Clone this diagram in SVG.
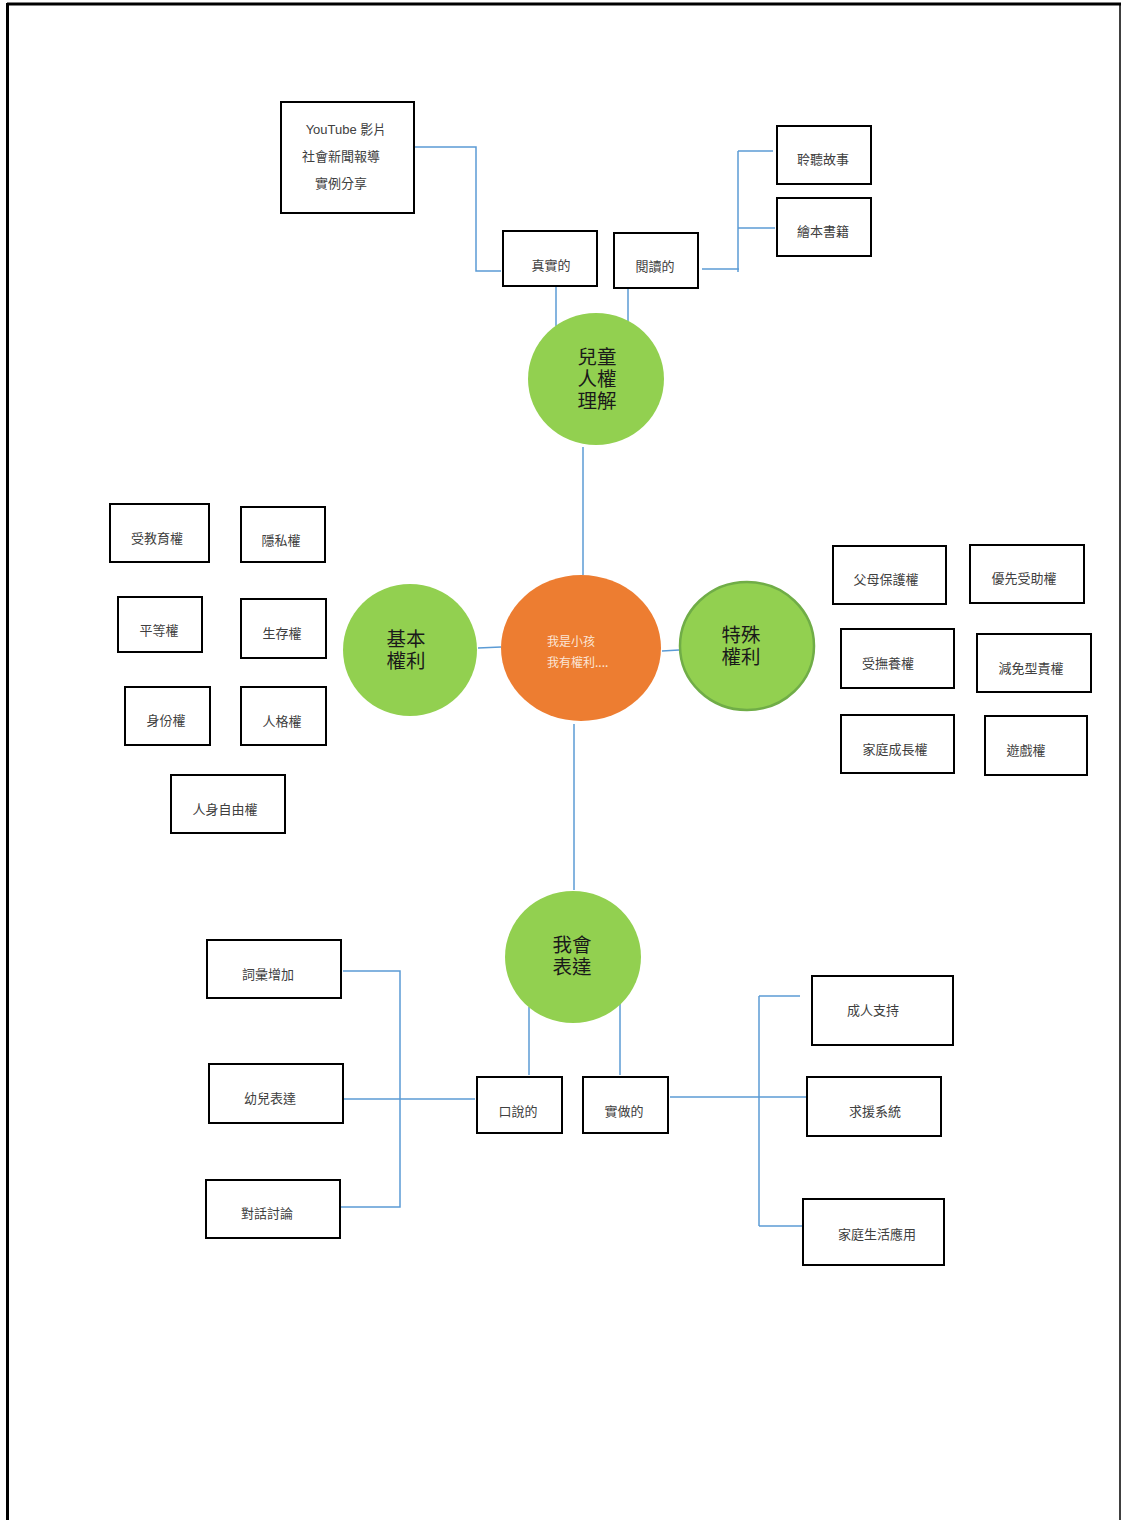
<svg xmlns="http://www.w3.org/2000/svg" width="1121" height="1520" viewBox="0 0 1121 1520">
<style>
.bx{fill:#fff;stroke:#000;stroke-width:2}
.t{font-family:"Liberation Sans","Noto Sans CJK TC",sans-serif;font-size:13px;fill:#404040;text-anchor:middle}
.c{fill:#92D050}
.ct{font-family:"Liberation Sans","Noto Sans CJK TC",sans-serif;font-size:19.5px;fill:#1a1a1a;text-anchor:middle}
.ln{fill:none;stroke:#5B9BD5;stroke-width:1.5}
</style>
<rect width="1121" height="1520" fill="#fff"/>
<g id="page-border">
<line x1="7" y1="4" x2="1121" y2="4" stroke="#000" stroke-width="3"/>
<line x1="7.5" y1="3" x2="7.5" y2="1520" stroke="#000" stroke-width="3"/>
<line x1="1120" y1="4" x2="1120" y2="1520" stroke="#000" stroke-width="1.5"/>
</g>
<g id="connectors">
<polyline class="ln" points="414,147 476,147 476,271 501,271"/>
<line class="ln" x1="556" y1="287" x2="556" y2="326"/>
<line class="ln" x1="628" y1="289" x2="628" y2="321"/>
<polyline class="ln" points="702,269 739,269"/>
<line class="ln" x1="738" y1="151" x2="738" y2="272"/>
<line class="ln" x1="738" y1="151" x2="773" y2="151"/>
<line class="ln" x1="738" y1="228" x2="775" y2="228"/>
<line class="ln" x1="583" y1="447" x2="583" y2="575"/>
<line class="ln" x1="478" y1="648" x2="501" y2="647"/>
<line class="ln" x1="662" y1="651" x2="679" y2="650"/>
<line class="ln" x1="574" y1="724" x2="574" y2="890"/>
<line class="ln" x1="529" y1="1007" x2="529" y2="1075"/>
<line class="ln" x1="620" y1="998" x2="620" y2="1075"/>
<polyline class="ln" points="343,971 400,971 400,1207 341,1207"/>
<line class="ln" x1="344" y1="1099" x2="475" y2="1099"/>
<line class="ln" x1="670" y1="1097" x2="807" y2="1097"/>
<line class="ln" x1="759" y1="996" x2="759" y2="1226"/>
<line class="ln" x1="759" y1="996" x2="800" y2="996"/>
<line class="ln" x1="759" y1="1226" x2="803" y2="1226"/>
</g>
<g id="n-youtube"><rect class="bx" x="281" y="102" width="133" height="111"/>
<text class="t" x="346" y="134">YouTube  影片</text>
<text class="t" x="341" y="161">社會新聞報導</text>
<text class="t" x="341" y="188">實例分享</text></g>
<g id="n-real"><rect class="bx" x="503" y="231" width="94" height="55"/><text class="t" x="551" y="270">真實的</text></g>
<g id="n-read"><rect class="bx" x="614" y="233" width="84" height="55"/><text class="t" x="655" y="271">閱讀的</text></g>
<g id="n-listen"><rect class="bx" x="777" y="126" width="94" height="58"/><text class="t" x="823" y="164">聆聽故事</text></g>
<g id="n-book"><rect class="bx" x="777" y="198" width="94" height="58"/><text class="t" x="823" y="236">繪本書籍</text></g>

<g id="n-understand"><ellipse class="c" cx="596" cy="379" rx="68" ry="66"/>
<text class="ct" x="597" y="364">兒童</text><text class="ct" x="597" y="386">人權</text><text class="ct" x="597" y="408">理解</text></g>
<g id="n-center"><ellipse cx="581" cy="648" rx="80" ry="73" fill="#ED7D31"/>
<text x="547" y="646" font-family="Noto Sans CJK TC,sans-serif" font-size="12" fill="#FBE5D6">我是小孩</text>
<text x="547" y="667" font-family="Noto Sans CJK TC,sans-serif" font-size="12" fill="#FBE5D6">我有權利....</text></g>
<g id="n-basic"><ellipse class="c" cx="410" cy="650" rx="67" ry="66"/>
<text class="ct" x="406" y="646">基本</text><text class="ct" x="406" y="668">權利</text></g>
<g id="n-special"><ellipse class="c" cx="747" cy="646" rx="67" ry="64" stroke="#70AD47" stroke-width="2.5"/>
<text class="ct" x="741" y="642">特殊</text><text class="ct" x="741" y="664">權利</text></g>
<g id="n-express"><ellipse class="c" cx="573" cy="957" rx="68" ry="66"/>
<text class="ct" x="572" y="952">我會</text><text class="ct" x="572" y="974">表達</text></g>

<g id="n-edu"><rect class="bx" x="110" y="504" width="99" height="58"/><text class="t" x="157" y="543">受教育權</text></g>
<g id="n-privacy"><rect class="bx" x="241" y="507" width="84" height="55"/><text class="t" x="281" y="545">隱私權</text></g>
<g id="n-equal"><rect class="bx" x="118" y="597" width="84" height="55"/><text class="t" x="159" y="635">平等權</text></g>
<g id="n-survive"><rect class="bx" x="241" y="599" width="85" height="59"/><text class="t" x="282" y="638">生存權</text></g>
<g id="n-identity"><rect class="bx" x="125" y="687" width="85" height="58"/><text class="t" x="166" y="725">身份權</text></g>
<g id="n-person"><rect class="bx" x="241" y="687" width="85" height="58"/><text class="t" x="282" y="726">人格權</text></g>
<g id="n-freedom"><rect class="bx" x="171" y="775" width="114" height="58"/><text class="t" x="225" y="814">人身自由權</text></g>

<g id="n-parent"><rect class="bx" x="833" y="546" width="113" height="58"/><text class="t" x="886" y="584">父母保護權</text></g>
<g id="n-priority"><rect class="bx" x="970" y="545" width="114" height="58"/><text class="t" x="1024" y="583">優先受助權</text></g>
<g id="n-support"><rect class="bx" x="841" y="629" width="113" height="59"/><text class="t" x="888" y="668">受撫養權</text></g>
<g id="n-exempt"><rect class="bx" x="977" y="634" width="114" height="58"/><text class="t" x="1031" y="673">減免型責權</text></g>
<g id="n-family"><rect class="bx" x="841" y="715" width="113" height="58"/><text class="t" x="895" y="754">家庭成長權</text></g>
<g id="n-play"><rect class="bx" x="985" y="716" width="102" height="59"/><text class="t" x="1026" y="755">遊戲權</text></g>

<g id="n-vocab"><rect class="bx" x="207" y="940" width="134" height="58"/><text class="t" x="268" y="979">詞彙增加</text></g>
<g id="n-childexp"><rect class="bx" x="209" y="1064" width="134" height="59"/><text class="t" x="270" y="1103">幼兒表達</text></g>
<g id="n-dialog"><rect class="bx" x="206" y="1180" width="134" height="58"/><text class="t" x="267" y="1218">對話討論</text></g>
<g id="n-oral"><rect class="bx" x="477" y="1077" width="85" height="56"/><text class="t" x="518" y="1116">口說的</text></g>
<g id="n-do"><rect class="bx" x="583" y="1077" width="85" height="56"/><text class="t" x="624" y="1116">實做的</text></g>
<g id="n-adult"><rect class="bx" x="812" y="976" width="141" height="69"/><text class="t" x="873" y="1015">成人支持</text></g>
<g id="n-help"><rect class="bx" x="807" y="1077" width="134" height="59"/><text class="t" x="875" y="1116">求援系統</text></g>
<g id="n-home"><rect class="bx" x="803" y="1199" width="141" height="66"/><text class="t" x="877" y="1239">家庭生活應用</text></g>
</svg>
